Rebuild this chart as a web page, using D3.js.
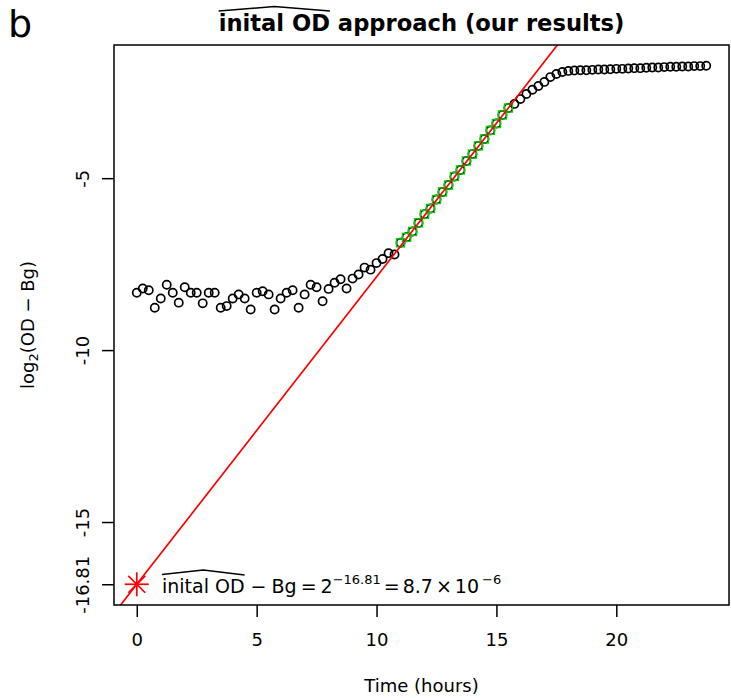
<!DOCTYPE html>
<html><head><meta charset="utf-8">
<script src="https://cdn.jsdelivr.net/npm/d3@7"></script>
<style>
body{margin:0;background:#fff}
svg text{font-family:"DejaVu Sans",sans-serif;fill:#000}
</style>
</head><body>
<svg id="chart" width="731" height="698"></svg>
<script>
// ---- data ----
const times = [0,0.25,0.5,0.75,1,1.25,1.5,1.75,2,2.25,2.5,2.75,3,3.25,3.5,3.75,4,4.25,4.5,4.75,
  5,5.25,5.5,5.75,6,6.25,6.5,6.75,7,7.25,7.5,7.75,8,8.25,8.5,8.75,9,9.25,9.5,9.75,
  10,10.25,10.5,10.75,11,11.25,11.5,11.75,12,12.25,12.5,12.75,13,13.25,13.5,13.75,14,14.25,14.5,14.75,
  15,15.25,15.5,15.75,16,16.25,16.5,16.75,17,17.25,17.5,17.75,18,18.25,18.5,18.75,19,19.25,19.5,19.75,
  20,20.25,20.5,20.75,21,21.25,21.5,21.75,22,22.25,22.5,22.75,23,23.25,23.5,23.75];
const logOD = [-8.33,-8.21,-8.26,-8.77,-8.50,-8.10,-8.33,-8.62,-8.17,-8.33,
  -8.33,-8.64,-8.33,-8.33,-8.77,-8.72,-8.50,-8.38,-8.50,-8.82,
  -8.33,-8.29,-8.38,-8.82,-8.50,-8.33,-8.26,-8.77,-8.38,-8.10,
  -8.17,-8.58,-8.22,-8.04,-7.94,-8.21,-7.92,-7.80,-7.60,-7.66,
  -7.47,-7.35,-7.18,-7.22,
  -6.88,-6.72,-6.55,-6.30,-6.05,-5.88,-5.62,-5.40,-5.20,-4.95,-4.76,-4.50,-4.30,-4.06,-3.86,-3.61,-3.41,-3.16,-2.96,
  -2.84,-2.70,-2.55,-2.43,-2.32,-2.20,-2.06,-1.97,
  -1.91,-1.88,-1.87,-1.86,-1.86,-1.85,-1.84,-1.84,-1.83,-1.82,-1.82,-1.81,-1.80,-1.80,-1.79,-1.78,-1.78,-1.77,-1.76,-1.76,-1.75,-1.75,-1.74,-1.74,-1.73];
const fitRange = [11, 15.5];
const fitIntercept = -16.81;
const fitSlope = 0.894;
const xTicks = [0,5,10,15,20];
const yTicks = [-5,-10,-15,-16.81];
const yTickLabels = ["-5","-10","-15","-16.81"];

// ---- layout ----
const W=731,H=698, L=114, R=729, T=45, B=605;
const svg = d3.select("#chart");

const xmin = d3.min(times), xmax = d3.max(times);
const ymin = Math.min(d3.min(logOD), fitIntercept), ymax = d3.max(logOD);
const xp = (xmax-xmin)*0.04, yp = (ymax-ymin)*0.04;
const x = d3.scaleLinear().domain([xmin-xp, xmax+xp]).range([L,R]);
const y = d3.scaleLinear().domain([ymin-yp, ymax+yp]).range([B,T]);

svg.append("clipPath").attr("id","clip").append("rect")
  .attr("x",L).attr("y",T).attr("width",R-L).attr("height",B-T);

const data = times.map((t,i)=>({t, v:logOD[i]}));

// points
svg.append("g").selectAll("circle").data(data).join("circle")
  .attr("cx",d=>x(d.t)).attr("cy",d=>y(d.v)).attr("r",4.1)
  .attr("fill","none").attr("stroke","#000").attr("stroke-width",1.7);

// fitted points (green squares)
const fitData = data.filter(d=>d.t>=fitRange[0] && d.t<=fitRange[1]);
svg.append("g").selectAll("rect").data(fitData).join("rect")
  .attr("x",d=>x(d.t)-4).attr("y",d=>y(d.v)-4).attr("width",8).attr("height",8)
  .attr("fill","none").attr("stroke","#00CD00").attr("stroke-width",1.4);

// fit line
const lx = x.domain();
svg.append("line").attr("clip-path","url(#clip)")
  .attr("x1",x(lx[0])).attr("y1",y(fitIntercept+fitSlope*lx[0]))
  .attr("x2",x(lx[1])).attr("y2",y(fitIntercept+fitSlope*lx[1]))
  .attr("stroke","#FF0000").attr("stroke-width",1.7);

// asterisk at intercept
const ax = x(0), ay = y(fitIntercept);
const a = 12, d2 = a/Math.SQRT2;
const star = svg.append("g").attr("stroke","#FF0000").attr("stroke-width",1.7);
[[-a,0,a,0],[0,-a,0,a],[-d2,-d2,d2,d2],[-d2,d2,d2,-d2]].forEach(s=>{
  star.append("line").attr("x1",ax+s[0]).attr("y1",ay+s[1]).attr("x2",ax+s[2]).attr("y2",ay+s[3]);
});

// box
svg.append("rect").attr("x",L).attr("y",T).attr("width",R-L).attr("height",B-T)
  .attr("fill","none").attr("stroke","#000").attr("stroke-width",1.5);

// x axis
const gx = svg.append("g").attr("transform",`translate(0,${B})`)
  .call(d3.axisBottom(x).tickValues(xTicks).tickFormat(d3.format("d")).tickSize(12).tickPadding(16));
gx.select(".domain").remove();
gx.selectAll(".tick line").attr("stroke","#000").attr("stroke-width",1.5);
gx.selectAll(".tick text").attr("font-size",18).attr("font-family","DejaVu Sans").attr("fill","#000");

// y axis
const gy = svg.append("g").attr("transform",`translate(${L},0)`)
  .call(d3.axisLeft(y).tickValues(yTicks).tickFormat((d,i)=>yTickLabels[i]).tickSize(12));
gy.select(".domain").remove();
gy.selectAll(".tick line").attr("stroke","#000").attr("stroke-width",1.5);
gy.selectAll(".tick text").attr("font-size",18).attr("font-family","DejaVu Sans").attr("fill","#000")
  .attr("transform","rotate(-90)").attr("x",0).attr("y",-25).attr("dy",0).attr("text-anchor","middle");

// axis titles
svg.append("text").attr("x",(L+R)/2).attr("y",692).attr("text-anchor","middle")
  .attr("font-size",18).text("Time (hours)");
const yl = svg.append("text").attr("transform",`translate(34,${(T+B)/2}) rotate(-90)`)
  .attr("text-anchor","middle").attr("font-size",18);
yl.append("tspan").text("log");
yl.append("tspan").attr("font-size",13).attr("dy",4).text("2");
yl.append("tspan").attr("dy",-4).text("(OD \u2212 Bg)");

// title
const title = svg.append("text").attr("x",(L+R)/2).attr("y",31).attr("text-anchor","middle")
  .attr("font-size",22).attr("font-weight","bold");
title.append("tspan").text("inital OD");
title.append("tspan").text(" approach (our results)");
const tw = title.node().getComputedTextLength();
title.attr("font-size",22*406/tw);
const tw2 = title.node().getComputedTextLength();
const hatW = title.node().getSubStringLength(0,9);
const tx0 = (L+R)/2 - tw2/2;
const hat = d3.line();
svg.append("path").attr("d",hat([[tx0,11],[tx0+hatW/2,6.5],[tx0+hatW,11]]))
  .attr("fill","none").attr("stroke","#000").attr("stroke-width",1.5);

// legend text
const lg = svg.append("text").attr("x",162).attr("y",593).attr("font-size",19);
lg.append("tspan").text("inital OD");
lg.append("tspan").attr("dx",6).text("\u2212");
lg.append("tspan").attr("dx",5).text("Bg");
lg.append("tspan").attr("dx",4).text("=");
lg.append("tspan").attr("dx",4).text("2");
lg.append("tspan").attr("dy",-9).attr("font-size",13).text("\u221216.81");
lg.append("tspan").attr("dy",9).attr("dx",3).text("=");
lg.append("tspan").attr("dx",3).text("8.7");
lg.append("tspan").attr("dx",3).text("\u00d7");
lg.append("tspan").attr("dx",3).text("10");
lg.append("tspan").attr("dy",-9).attr("dx",3).attr("font-size",13).text("\u22126");
const lhW = lg.node().getSubStringLength(0,9);
svg.append("path").attr("d",hat([[162,574.5],[162+lhW/2,570],[162+lhW,575]]))
  .attr("fill","none").attr("stroke","#000").attr("stroke-width",1.5);

// panel letter
svg.append("text").attr("x",8).attr("y",37).attr("font-size",38)
  .attr("font-family","Liberation Sans").text("b");
</script>
</body></html>
